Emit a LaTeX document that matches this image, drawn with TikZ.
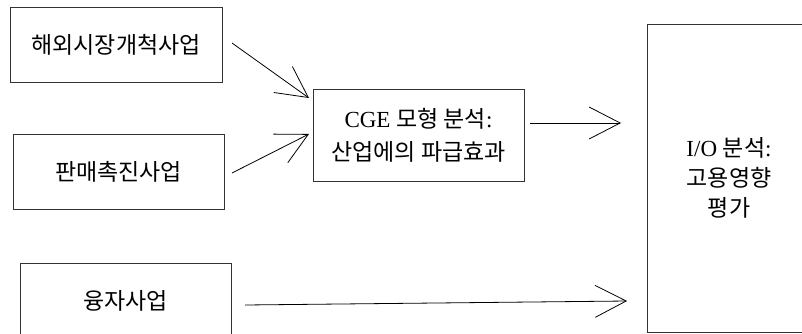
\documentclass[tikz,border=0pt]{standalone}
\usepackage{fontspec}
\setmainfont{Liberation Serif}
\newfontfamily\cjk{Noto Sans CJK KR}
\usetikzlibrary{arrows.meta}
\tikzset{
  box/.style={draw=black!80, line width=0.8pt, rectangle, inner sep=0pt, align=center,
    font=\fontsize{23}{30}\selectfont},
  conn/.style={line width=0.8pt, -{Straight Barb[length=31pt, width=32pt, line width=0.8pt]}}
}
\begin{document}
\begin{tikzpicture}[x=1pt,y=-1pt]
\useasboundingbox (0,0) rectangle (802,334);
\clip (0,0) rectangle (802,334);
\node[box, minimum width=212pt, minimum height=75pt] (b1) at (116,44.5) {\cjk 해외시장개척사업};
\node[box, minimum width=211pt, minimum height=75pt] (b2) at (118.5,171.5) {\cjk 판매촉진사업};
\node[box, minimum width=211pt, minimum height=75pt] (b3) at (125.5,300.5) {\cjk 융자사업};
\node[box, minimum width=211pt, minimum height=92pt, font=\fontsize{23}{33}\selectfont] (cge) at (418.5,135)
  {CGE {\cjk 모형 분석}:\\{\cjk 산업에의 파급효과}};
\node[box, minimum width=164pt, minimum height=308pt] (io) at (729,178)
  {I/O {\cjk 분석}:\\{\cjk 고용영향}\\{\cjk 평가}};
\coordinate (a1s) at (232,43);
\coordinate (a1e) at (309,98);
\coordinate (a2s) at (232,173);
\coordinate (a2e) at (309,134);
\coordinate (a3s) at (530,123);
\coordinate (a3e) at (621,123);
\coordinate (a4s) at (245,305);
\coordinate (a4e) at (627,301);
\draw[conn] (a1s) -- (a1e);
\draw[conn] (a2s) -- (a2e);
\draw[conn] (a3s) -- (a3e);
\draw[conn] (a4s) -- (a4e);
\end{tikzpicture}
\end{document}
